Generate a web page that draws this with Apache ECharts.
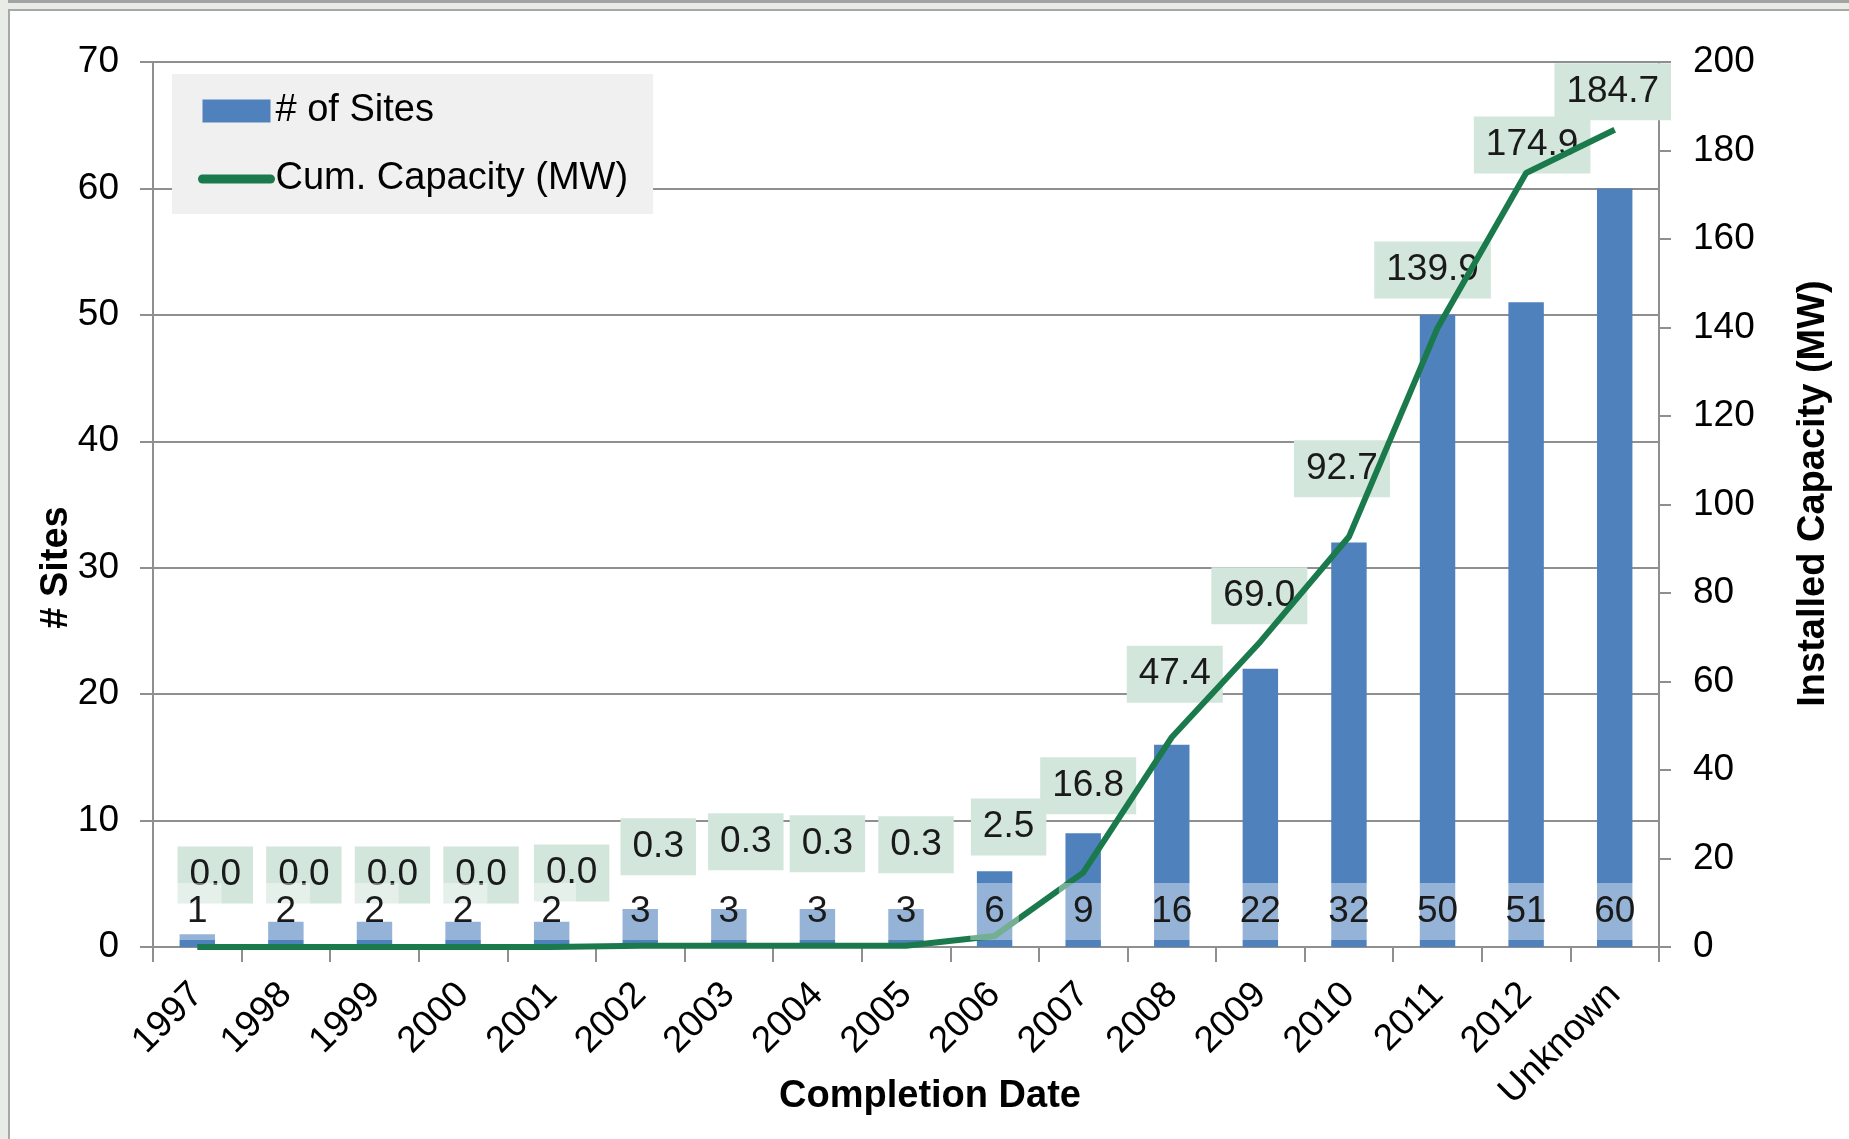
<!DOCTYPE html>
<html>
<head>
<meta charset="utf-8">
<script src="https://cdn.jsdelivr.net/npm/echarts@6/dist/echarts.min.js"></script>
<style>
  html, body { margin: 0; padding: 0; background: #ffffff; overflow: hidden; }
  #chart { width: 1849px; height: 1139px; }
</style>
</head>
<body>
<div id="chart"></div>
<script>
// ---- data ----
const categories = ['1997','1998','1999','2000','2001','2002','2003','2004','2005','2006','2007','2008','2009','2010','2011','2012','Unknown'];
const sites = [1, 2, 2, 2, 2, 3, 3, 3, 3, 6, 9, 16, 22, 32, 50, 51, 60];
const capacity = [0.0, 0.0, 0.0, 0.0, 0.0, 0.3, 0.3, 0.3, 0.3, 2.5, 16.8, 47.4, 69.0, 92.7, 139.9, 174.9, 184.7];
const sitesAxis = { min: 0, max: 70, interval: 10 };
const capAxis = { min: 0, max: 200, interval: 20 };

// ---- label placement tweaks (layout only, pixel offsets of the capacity labels) ----
const capLabelShift = [[18,-72],[18,-72],[18,-72],[18,-72],[20,-74],[18,-99],[17,-104],[10,-102],[10,-101],[14,-109],[5,-87],[3,-63],[-1,-46],[-7,-68],[-5,-58],[6,-28],[-2,-38]];

const FONT = '"Liberation Sans", Arial, sans-serif';
const BLUE = '#4F81BD';
const GREEN = '#1A7A4C';
const GRID = '#8F8F8F';

const chart = echarts.init(document.getElementById('chart'), null, { renderer: 'canvas' });

const option = {
  backgroundColor: '#ffffff',
  animation: false,
  textStyle: { fontFamily: FONT, color: '#000' },
  graphic: [
    { type: 'rect', shape: { x: 0, y: 0, width: 1849, height: 3 }, style: { fill: '#A3A3A3' }, silent: true },
    { type: 'rect', shape: { x: 0, y: 3, width: 1849, height: 6 }, style: { fill: '#E9ECE6' }, silent: true },
    { type: 'rect', shape: { x: 0, y: 0, width: 8, height: 1139 }, style: { fill: '#E9ECE6' }, silent: true },
    { type: 'line', shape: { x1: 8, y1: 10, x2: 1849, y2: 10 }, style: { stroke: '#A8A8A8', lineWidth: 2 }, silent: true },
    { type: 'line', shape: { x1: 9, y1: 10, x2: 9, y2: 1139 }, style: { stroke: '#A8A8A8', lineWidth: 2 }, silent: true }
  ],
  grid: { left: 153, right: 190, top: 62, bottom: 192, containLabel: false, outerBoundsMode: 'none' },
  legend: {
    orient: 'vertical',
    left: 172,
    top: 74,
    backgroundColor: '#F0F0F0',
    padding: [18, 25, 16, 26],
    itemGap: 30,
    itemWidth: 68,
    itemHeight: 23,
    textStyle: { fontFamily: FONT, fontSize: 38, lineHeight: 38, color: '#000' },
    lineStyle: { width: 9, cap: 'round' },
    data: [
      { name: '# of Sites', icon: 'rect' },
      { name: 'Cum. Capacity (MW)', itemStyle: { color: 'rgba(0,0,0,0)', borderWidth: 0 } }
    ]
  },
  xAxis: {
    type: 'category',
    data: categories,
    boundaryGap: true,
    name: 'Completion Date',
    nameLocation: 'middle',
    nameGap: 131,
    nameMoveOverlap: false,
    nameTextStyle: { fontFamily: FONT, fontSize: 38, lineHeight: 38, fontWeight: 'bold', color: '#000', padding: [0, 0, 0, 48] },
    axisLine: { show: true, lineStyle: { color: GRID, width: 2 } },
    axisTick: { show: true, alignWithLabel: false, length: 15, lineStyle: { color: GRID, width: 2 } },
    axisLabel: {
      interval: 0, rotate: 45, margin: 42,
      fontFamily: FONT, fontSize: 37, lineHeight: 37, color: '#000',
      padding: [58, 0, 0, 0]
    },
    splitLine: { show: false }
  },
  yAxis: [
    {
      type: 'value',
      position: 'left',
      min: sitesAxis.min, max: sitesAxis.max, interval: sitesAxis.interval,
      name: '# Sites',
      nameLocation: 'middle',
      nameGap: 77,
      nameMoveOverlap: false,
      nameTextStyle: { fontFamily: FONT, fontSize: 38, lineHeight: 38, fontWeight: 'bold', color: '#000', padding: [0, 126, 0, 0] },
      axisLine: { show: true, lineStyle: { color: GRID, width: 2 } },
      axisTick: { show: true, inside: false, length: 13, lineStyle: { color: GRID, width: 2 } },
      axisLabel: { margin: 34, fontFamily: FONT, fontSize: 37, color: '#000' },
      splitLine: { show: true, lineStyle: { color: GRID, width: 2 } }
    },
    {
      type: 'value',
      position: 'right',
      min: capAxis.min, max: capAxis.max, interval: capAxis.interval,
      name: 'Installed Capacity (MW)',
      nameLocation: 'middle',
      nameGap: 136,
      nameMoveOverlap: false,
      nameTextStyle: { fontFamily: FONT, fontSize: 38, lineHeight: 38, fontWeight: 'bold', color: '#000', padding: [0, 0, 0, 22] },
      axisLine: { show: true, lineStyle: { color: GRID, width: 2 } },
      axisTick: { show: true, inside: false, length: 12, lineStyle: { color: GRID, width: 2 } },
      axisLabel: { margin: 34, fontFamily: FONT, fontSize: 37, color: '#000' },
      splitLine: { show: false }
    }
  ],
  series: [
    {
      name: '# of Sites',
      type: 'bar',
      yAxisIndex: 0,
      data: sites,
      barWidth: '40%',
      barGap: '-100%',
      z: 1,
      itemStyle: { color: BLUE },
      label: { show: false }
    },
    {
      name: 'capacity-labels',
      type: 'line',
      yAxisIndex: 1,
      z: 2,
      data: capacity.map((v, i) => ({ value: v, label: { offset: capLabelShift[i] } })),
      symbol: 'circle',
      symbolSize: 1,
      showSymbol: true,
      itemStyle: { color: 'rgba(0,0,0,0)' },
      lineStyle: { width: 0, opacity: 0 },
      label: {
        show: true,
        position: 'inside',
        formatter: p => Number(p.value).toFixed(1),
        fontFamily: FONT, fontSize: 37, lineHeight: 37, color: '#1a1a1a',
        backgroundColor: '#D2E6DB',
        padding: [10, 12]
      },
      tooltip: { show: false }
    },
    {
      name: 'Cum. Capacity (MW)',
      type: 'line',
      yAxisIndex: 1,
      z: 3,
      data: capacity,
      symbol: 'none',
      showSymbol: false,
      itemStyle: { color: GREEN },
      lineStyle: { color: GREEN, width: 6 }
    },
    {
      name: 'sites-labels',
      type: 'bar',
      yAxisIndex: 0,
      data: sites,
      barWidth: '40%',
      barGap: '-100%',
      z: 4,
      itemStyle: { color: 'rgba(0,0,0,0)' },
      label: {
        show: true,
        position: 'insideBottom',
        distance: 7,
        formatter: '{c}',
        fontFamily: FONT, fontSize: 37, lineHeight: 37, color: '#1a1a1a',
        backgroundColor: 'rgba(255,255,255,0.4)',
        padding: [10, 14]
      }
    }
  ]
};

chart.setOption(option);
</script>
</body>
</html>
